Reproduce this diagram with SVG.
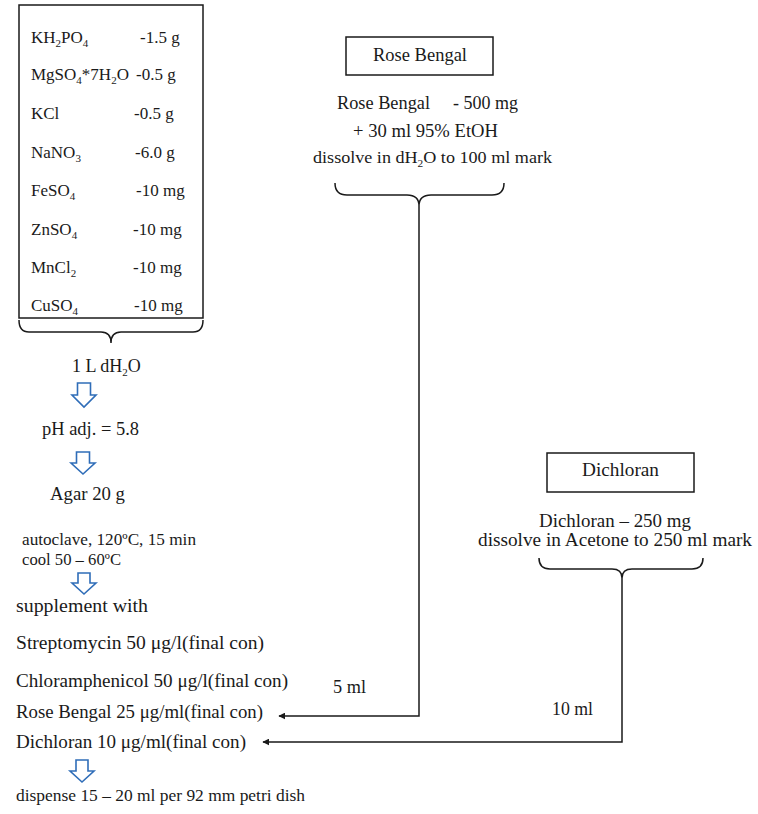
<svg xmlns="http://www.w3.org/2000/svg" width="758" height="814" viewBox="0 0 758 814">
<style>
  text { font-family: "Liberation Serif", "Times New Roman", serif; fill: #1a1a1a; font-size: 18px; }
  .lb { font-size: 17px; }
  .sm { font-size: 16px; }
  .box { fill: #ffffff; stroke: #1a1a1a; stroke-width: 1.5; }
  .brace { fill: none; stroke: #1a1a1a; stroke-width: 1.5; }
  .line { fill: none; stroke: #1a1a1a; stroke-width: 1.5; }
  .flow { fill: #ffffff; stroke: #2f6db8; stroke-width: 1.6; stroke-linejoin: miter; }
</style>
<defs>
  <marker id="ah" viewBox="0 0 10 10" refX="9" refY="5" markerWidth="7" markerHeight="7" orient="auto-start-reverse" markerUnits="userSpaceOnUse">
    <path d="M0,0 L10,5 L0,10 Z" fill="#1a1a1a"/>
  </marker>
</defs>
<rect width="758" height="814" fill="#ffffff"/>

<g id="media-components">
  <rect class="box" x="19" y="5" width="184" height="313"/>
  <text class="lb" x="31" y="43">KH<tspan font-size="11" dy="4">2</tspan><tspan dy="-4">PO</tspan><tspan font-size="11" dy="4">4</tspan></text>
  <text class="lb" x="140" y="43">-1.5 g</text>
  <text class="lb" x="31" y="80">MgSO<tspan font-size="11" dy="4">4</tspan><tspan dy="-4">*7H</tspan><tspan font-size="11" dy="4">2</tspan><tspan dy="-4">O</tspan></text>
  <text class="lb" x="136" y="80">-0.5 g</text>
  <text class="lb" x="31" y="119">KCl</text>
  <text class="lb" x="134" y="119">-0.5 g</text>
  <text class="lb" x="31" y="158">NaNO<tspan font-size="11" dy="4">3</tspan></text>
  <text class="lb" x="135" y="158">-6.0 g</text>
  <text class="lb" x="31" y="196">FeSO<tspan font-size="11" dy="4">4</tspan></text>
  <text class="lb" x="136" y="196">-10 mg</text>
  <text class="lb" x="31" y="235">ZnSO<tspan font-size="11" dy="4">4</tspan></text>
  <text class="lb" x="133" y="235">-10 mg</text>
  <text class="lb" x="31" y="273">MnCl<tspan font-size="11" dy="4">2</tspan></text>
  <text class="lb" x="133" y="273">-10 mg</text>
  <text class="lb" x="31" y="311">CuSO<tspan font-size="11" dy="4">4</tspan></text>
  <text class="lb" x="134" y="311">-10 mg</text>
  <path class="brace" d="M19,320 Q19,332 29,332 L101,332 Q111,332 111,343 Q111,332 121,332 L193,332 Q203,332 203,320"/>
</g>

<g id="rose-bengal-title">
  <rect class="box" x="346" y="37" width="147" height="38"/>
  <text x="373" y="61" textLength="94" lengthAdjust="spacingAndGlyphs">Rose Bengal</text>
</g>

<g id="rose-bengal-recipe">
  <text x="337" y="109" textLength="93" lengthAdjust="spacingAndGlyphs">Rose Bengal</text>
  <text x="453" y="109" textLength="65" lengthAdjust="spacingAndGlyphs">- 500 mg</text>
  <text x="353" y="137" textLength="145" lengthAdjust="spacingAndGlyphs">+ 30 ml 95% EtOH</text>
  <text class="sm" x="313" y="163" textLength="239" lengthAdjust="spacingAndGlyphs">dissolve in dH<tspan font-size="10" dy="4">2</tspan><tspan dy="-4">O to 100 ml mark</tspan></text>
  <path class="brace" d="M335,183 Q335,195 347,195 L407,195 Q419,195 419,206 Q419,195 431,195 L492,195 Q504,195 504,183"/>
</g>

<g id="dichloran-title">
  <rect class="box" x="547" y="453" width="147" height="39"/>
  <text x="582" y="476" textLength="77" lengthAdjust="spacingAndGlyphs">Dichloran</text>
</g>

<g id="dichloran-recipe">
  <text x="539" y="527" textLength="152" lengthAdjust="spacingAndGlyphs">Dichloran – 250 mg</text>
  <text x="478" y="546" textLength="274" lengthAdjust="spacingAndGlyphs">dissolve in Acetone to 250 ml mark</text>
  <path class="brace" d="M539,558 Q539,569 550,569 L612,569 Q622,569 622,578 Q622,569 632,569 L692,569 Q703,569 703,558"/>
</g>

<g id="water">
  <text x="72" y="372">1 L dH<tspan font-size="11" dy="4">2</tspan><tspan dy="-4">O</tspan></text>
</g>
<g id="ph">
  <text x="42" y="435" textLength="97" lengthAdjust="spacingAndGlyphs">pH adj. = 5.8</text>
</g>
<g id="agar">
  <text x="50" y="500" textLength="75" lengthAdjust="spacingAndGlyphs">Agar 20 g</text>
</g>
<g id="autoclave">
  <text class="sm" x="22" y="545" textLength="174" lengthAdjust="spacingAndGlyphs">autoclave, 120ºC, 15 min</text>
  <text class="sm" x="22" y="565" textLength="99" lengthAdjust="spacingAndGlyphs">cool 50 – 60ºC</text>
</g>
<g id="supplement">
  <text x="16" y="612" textLength="132" lengthAdjust="spacingAndGlyphs">supplement with</text>
  <text x="16" y="649" textLength="248" lengthAdjust="spacingAndGlyphs">Streptomycin  50 μg/l(final con)</text>
  <text x="16" y="687" textLength="272" lengthAdjust="spacingAndGlyphs">Chloramphenicol 50 μg/l(final con)</text>
  <text x="16" y="718" textLength="247" lengthAdjust="spacingAndGlyphs">Rose Bengal 25 μg/ml(final con)</text>
  <text x="16" y="748" textLength="230" lengthAdjust="spacingAndGlyphs">Dichloran 10 μg/ml(final con)</text>
</g>
<g id="dispense">
  <text class="sm" x="16" y="801" textLength="289" lengthAdjust="spacingAndGlyphs">dispense 15 – 20 ml per 92 mm petri dish</text>
</g>

<g id="connectors">
  <path class="line" d="M419,206 V716 H279" marker-end="url(#ah)"/>
  <text x="333" y="693" textLength="33" lengthAdjust="spacingAndGlyphs">5 ml</text>
  <path class="line" d="M622,578 V742 H263" marker-end="url(#ah)"/>
  <text x="552" y="715" textLength="41" lengthAdjust="spacingAndGlyphs">10 ml</text>
  <polygon class="flow" points="77.5,383 90.5,383 90.5,395 96,395 84,407 72,395 77.5,395"/>
  <polygon class="flow" points="76.5,452 89.5,452 89.5,463 95,463 83,474 71,463 76.5,463"/>
  <polygon class="flow" points="78,573 90,573 90,583 96,583 84,594 72,583 78,583"/>
  <polygon class="flow" points="76,760 88,760 88,771 94,771 82,782 70,771 76,771"/>
</g>
</svg>
